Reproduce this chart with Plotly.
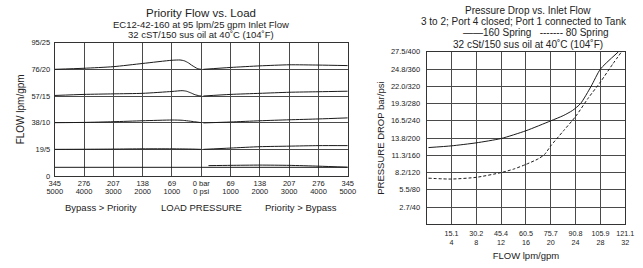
import plotly.graph_objects as go

# ---------------- Left chart data: Priority Flow vs. Load ----------------
# x: load pressure in bar (negative = Bypass > Priority side), y: flow in gpm
a_left_x = [-345, -276, -207, -138, -69, -50, -40, -30, -23, -15, -8, 0]
a_left_y = [20.0, 20.2, 20.5, 21.1, 21.7, 21.75, 21.6, 21.2, 20.8, 20.4, 20.1, 20.0]
a_right_x = [5, 69, 138, 207, 276, 345]
a_right_y = [20.0, 20.35, 20.65, 20.85, 20.8, 20.7]

b_left_x = [-345, -276, -207, -138, -69, -45, -35, -25, -15, -5, 0]
b_left_y = [15.1, 15.3, 15.4, 15.5, 15.85, 16.0, 15.9, 15.6, 15.25, 15.05, 15.0]
b_right_x = [5, 69, 138, 207, 276, 345]
b_right_y = [15.0, 15.3, 15.5, 15.7, 15.8, 15.9]

c_left_x = [-345, -276, -207, -138, -69, -45, -16, 0]
c_left_y = [10.0, 10.05, 10.18, 10.36, 10.5, 10.45, 10.18, 10.0]
c_right_x = [5, 69, 138, 207, 276, 345]
c_right_y = [9.95, 10.13, 10.36, 10.54, 10.7, 10.9]

d_left_x = [-345, -276, -207, -138, -69, -20, 0]
d_left_y = [5.0, 5.02, 5.05, 5.1, 5.1, 5.05, 5.0]
d_right_x = [5, 69, 138, 207, 276, 345]
d_right_y = [5.0, 5.24, 5.5, 5.6, 5.7, 5.7]

e_x = [-345, 345]
e_y = [1.63, 1.63]
e_right_x = [17, 69, 138, 207, 276, 345]
e_right_y = [1.95, 2.0, 2.05, 2.0, 1.85, 1.65]

left_xticks = [-345, -276, -207, -138, -69, 0, 69, 138, 207, 276, 345]
left_xlabels_bar = ["345", "276", "207", "138", "69", "0 bar", "69", "138", "207", "276", "345"]
left_xlabels_psi = ["5000", "4000", "3000", "2000", "1000", "0 psi", "1000", "2000", "3000", "4000", "5000"]
left_yticks = [0, 5, 10, 15, 20, 25]
left_ylabels = ["0", "19/5", "38/10", "57/15", "76/20", "95/25"]

# ---------------- Right chart data: Pressure Drop vs. Inlet Flow ----------------
spring160_gpm = [0.3, 4, 8, 12, 16, 20, 22, 23.5, 24.8, 26.5, 28, 30.9]
spring160_psi = [178, 182, 189, 199, 217, 240, 252, 264, 280, 320, 360, 400]
spring80_gpm = [0.3, 4, 8, 12, 14, 16, 18, 19, 20, 22, 24, 26, 28, 30, 31.4]
spring80_psi = [107, 105, 109, 120, 128, 139, 152, 162, 182, 216, 250, 292, 330, 372, 400]

right_xticks = [4, 8, 12, 16, 20, 24, 28, 32]
right_xlabels_lpm = ["15.1", "30.2", "45.4", "60.5", "75.7", "90.8", "105.9", "121.1"]
right_xlabels_gpm = ["4", "8", "12", "16", "20", "24", "28", "32"]
right_yticks = [40, 80, 120, 160, 200, 240, 280, 320, 360, 400]
right_ylabels = ["2.7/40", "5.5/80", "8.2/120", "11.3/160", "13.8/200", "16.5/240",
                 "19.3/280", "22.0/320", "24.8/360", "27.5/400"]

W, H = 643, 268
FONT = "Liberation Sans, Arial, sans-serif"
CURVE = "#1a1a1a"
GRID = "#4a4a4a"
TICKFONT = dict(family=FONT, size=7.5, color="#222")
RTICKFONT = dict(family=FONT, size=7.2, color="#222")


def py(p):
    return 1 - p / H


def px(p):
    return p / W


fig = go.Figure()

line_style = dict(color=CURVE, width=1, shape="spline", smoothing=0.6)
for xs, ys in [(a_left_x, a_left_y), (a_right_x, a_right_y),
               (b_left_x, b_left_y), (b_right_x, b_right_y),
               (c_left_x, c_left_y), (c_right_x, c_right_y),
               (d_left_x, d_left_y), (d_right_x, d_right_y),
               (e_right_x, e_right_y)]:
    fig.add_trace(go.Scatter(x=xs, y=ys, mode="lines", line=line_style,
                             xaxis="x", yaxis="y", showlegend=False, hoverinfo="skip"))
fig.add_trace(go.Scatter(x=e_x, y=e_y, mode="lines", line=dict(color=CURVE, width=1),
                         xaxis="x3", yaxis="y", showlegend=False, hoverinfo="skip"))

fig.add_trace(go.Scatter(x=spring160_gpm, y=spring160_psi, mode="lines",
                         line=dict(color=CURVE, width=1, shape="spline", smoothing=0.6),
                         xaxis="x2", yaxis="y2", showlegend=False, hoverinfo="skip"))
fig.add_trace(go.Scatter(x=spring80_gpm, y=spring80_psi, mode="lines",
                         line=dict(color=CURVE, width=1, dash="3px,2px", shape="spline", smoothing=0.6),
                         xaxis="x4", yaxis="y2", showlegend=False, hoverinfo="skip"))

L_DOM = [px(48), px(349)]
L_YDOM = [py(178), py(40)]
R_DOM = [px(430), px(634)]
R_YDOM = [py(228), py(49.5)]

axis_common = dict(showline=True, linecolor="#333", linewidth=1, mirror=True,
                   showgrid=True, gridcolor=GRID, gridwidth=1, ticks="",
                   zeroline=False, tickfont=TICKFONT, fixedrange=True)

fig.update_layout(
    width=W, height=H, autosize=False,
    margin=dict(l=0, r=0, t=0, b=0),
    paper_bgcolor="white", plot_bgcolor="white",
    font=dict(family=FONT, color="#222"),
    xaxis=dict(axis_common, domain=L_DOM, anchor="y", range=[-345, 345],
               tickmode="array", tickvals=left_xticks, ticktext=left_xlabels_bar,
               ticklabelstandoff=0),
    xaxis3=dict(overlaying="x", anchor="y", side="bottom", range=[-345, 345],
                showline=False, showgrid=False, zeroline=False, ticks="",
                tickmode="array", tickvals=left_xticks, ticktext=left_xlabels_psi,
                tickfont=TICKFONT, ticklabelstandoff=9, fixedrange=True),
    yaxis=dict(axis_common, domain=L_YDOM, anchor="x", range=[0, 25],
               tickmode="array", tickvals=left_yticks, ticktext=left_ylabels,
               ticklabelstandoff=2,
               title=dict(text="FLOW lpm/gpm", font=dict(family=FONT, size=10), standoff=4)),
    xaxis2=dict(axis_common, domain=R_DOM, anchor="y2", range=[0, 32],
                tickmode="array", tickvals=right_xticks, ticktext=right_xlabels_lpm,
                tickfont=RTICKFONT, ticklabelstandoff=2,
                title=dict(text="FLOW lpm/gpm", font=dict(family=FONT, size=9.5), standoff=15)),
    xaxis4=dict(overlaying="x2", anchor="y2", side="bottom", range=[0, 32],
                showline=False, showgrid=False, zeroline=False, ticks="",
                tickmode="array", tickvals=right_xticks, ticktext=right_xlabels_gpm,
                tickfont=RTICKFONT, ticklabelstandoff=12, fixedrange=True),
    yaxis2=dict(axis_common, domain=R_YDOM, anchor="x2", range=[0, 400],
                tickmode="array", tickvals=right_yticks, ticktext=right_ylabels,
                ticklabelstandoff=4,
                title=dict(text="PRESSURE DROP bar/psi", font=dict(family=FONT, size=9.5), standoff=4)),
)

ann = []


def add_text(text, x, y, size, xanchor="center"):
    ann.append(dict(text=text, x=px(x), y=py(y), xref="paper", yref="paper",
                    xanchor=xanchor, yanchor="middle", showarrow=False,
                    font=dict(family=FONT, size=size, color="#222")))


add_text("Priority Flow vs. Load", 198, 9, 11.5)
add_text("EC12-42-160 at 95 lpm/25 gpm Inlet Flow", 198, 21, 9.5)
add_text("32 cST/150 sus oil at 40˚C (104˚F)", 198, 32, 9.5)

add_text("Pressure Drop vs. Inlet Flow", 534, 7, 10)
add_text("3 to 2; Port 4 closed; Port 1 connected to Tank", 530, 18, 10)
add_text("——160 Spring   ------- 80 Spring", 542, 30, 10)
add_text("32 cSt/150 sus oil at 40˚C (104˚F)", 534, 42, 10)

add_text("Bypass > Priority", 96, 211, 9.5)
add_text("LOAD PRESSURE", 199, 211, 9.5)
add_text("Priority > Bypass", 301, 211, 9.5)

fig.update_layout(annotations=ann)

fig.write_html("out.html", config={"displayModeBar": False},
               post_script="document.body.style.margin='0';document.body.style.overflow='hidden';")
